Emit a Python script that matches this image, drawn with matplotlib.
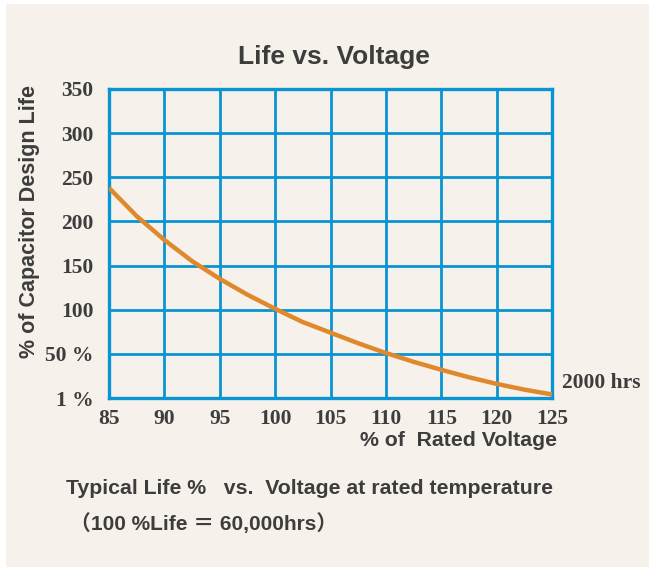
import numpy as np
import matplotlib
matplotlib.use('Agg')
import matplotlib.pyplot as plt
from matplotlib.patches import Rectangle

# data
voltage = [85, 87.5, 90, 92.5, 95, 97.5, 100, 102.5, 105, 107.5, 110, 112.5, 115, 117.5, 120, 122.5, 125]
life = [238, 206, 179, 155, 135, 117, 101, 86, 74, 62, 51, 41, 32, 23.5, 16, 9.5, 4]
x_ticks = [85, 90, 95, 100, 105, 110, 115, 120, 125]
y_ticks = [0, 50, 100, 150, 200, 250, 300, 350]
y_tick_labels = ['1 %', '50 %', '100', '150', '200', '250', '300', '350']

W, H = 657, 570
fig = plt.figure(figsize=(W / 100, H / 100), dpi=100)
fig.patch.set_facecolor('white')

# beige panel
fig.patches.append(Rectangle((6 / W, 3 / H), 643 / W, 563 / H, transform=fig.transFigure,
                             facecolor='#f6f1ea', edgecolor='none', zorder=-5))

grid_col = '#0a94d3'
text_col = '#3d3d3d'
serif = ['Liberation Serif', 'DejaVu Serif']
sans = ['Liberation Sans', 'Noto Sans CJK JP', 'DejaVu Sans']

ax = fig.add_axes([109 / W, (H - 398) / H, 443 / W, 309 / H])
ax.set_facecolor('none')
ax.plot(voltage, life, color='#e0892c', lw=3.2, solid_capstyle='butt', zorder=3)

ax.set_xlim(85, 125)
ax.set_ylim(0, 350)
ax.set_xticks(x_ticks)
ax.set_yticks(y_ticks)
ax.set_xticklabels([str(v) for v in x_ticks], fontfamily=serif, fontweight='bold',
                   fontsize=15.5, color=text_col)
ax.set_yticklabels(y_tick_labels, fontfamily=serif, fontweight='bold',
                   fontsize=15.5, color=text_col)
ax.tick_params(axis='x', length=0, pad=8)
ax.tick_params(axis='y', length=0, pad=11)
ax.grid(True, color=grid_col, lw=2, zorder=1)
for s in ax.spines.values():
    s.set_color(grid_col)
    s.set_linewidth(2.4)

fig.text(334 / W, 1 - 57 / H, 'Life vs. Voltage', ha='center', va='center',
         fontsize=19, fontfamily=sans, fontweight='bold', color=text_col)
fig.text(30 / W, 1 - 222 / H, '% of Capacitor Design Life', ha='center', va='center',
         rotation=90, fontsize=15.5, fontfamily=sans, fontweight='bold', color=text_col)
fig.text(458 / W, 1 - 441 / H, '% of  Rated Voltage', ha='center', va='center',
         fontsize=15.3, fontfamily=sans, fontweight='bold', color=text_col)
fig.text(562 / W, 1 - 383 / H, '2000 hrs', ha='left', va='center',
         fontsize=15.5, fontfamily=serif, fontweight='bold', color=text_col)
fig.text(66 / W, 1 - 489 / H, 'Typical Life %   vs.  Voltage at rated temperature',
         ha='left', va='center', fontsize=15.3, fontfamily=sans, fontweight='bold', color=text_col)
fig.text(70 / W, 1 - 524 / H, '（100 %Life ＝ 60,000hrs）',
         ha='left', va='center', fontsize=15, fontfamily=sans, fontweight='bold', color=text_col)

fig.savefig('out.png', dpi=100, facecolor=fig.get_facecolor())
